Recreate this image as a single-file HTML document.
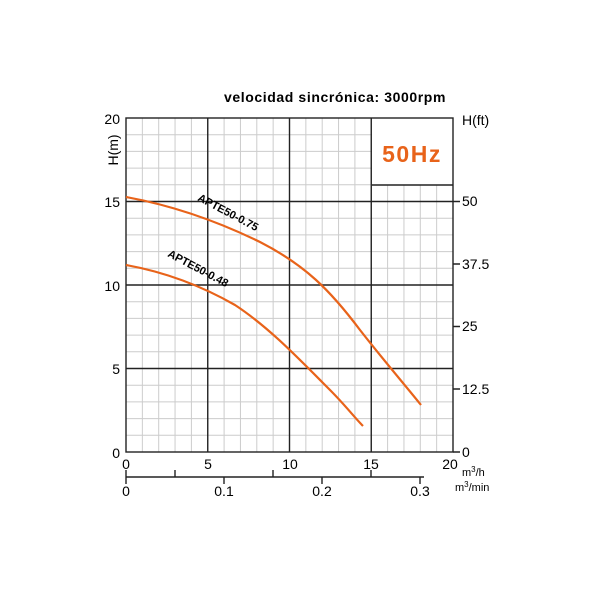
<!DOCTYPE html><html><head><style>body{margin:0;background:#fff}svg{display:block}</style></head><body>
<svg width="600" height="600" xmlns="http://www.w3.org/2000/svg" font-family="Liberation Sans, sans-serif">
<rect width="600" height="600" fill="#fff"/>
<g stroke="#ccc" stroke-width="1">
<path d="M142.35 118V452M158.7 118V452M175.05 118V452M191.4 118V452M224.1 118V452M240.45 118V452M256.8 118V452M273.15 118V452M305.85 118V452M322.2 118V452M338.55 118V452M354.9 118V452M387.6 185V452M403.95 185V452M420.3 185V452M436.65 185V452"/>
<path d="M126 134.7H372M126 151.4H372M126 168.1H372M126 184.8H372M126 218.2H453M126 234.9H453M126 251.6H453M126 268.3H453M126 301.7H453M126 318.4H453M126 335.1H453M126 351.8H453M126 385.2H453M126 401.9H453M126 418.6H453M126 435.3H453"/>
</g>
<g stroke="#222" stroke-width="1.4" fill="none">
<rect x="126" y="118" width="327" height="334"/>
<path d="M207.75 118V452M289.5 118V452M371.25 118V452M126 201.5H453M126 285H453M126 368.5H453M372 185H453"/>
<path d="M453 201.5H460M453 264H460M453 326.5H460M453 389H460M453 452H460"/>
<path d="M126 477H424M126 470V484M175 477V470M224 477V484M273 477V470M322 477V484M371 477V470M420 477V484"/>
</g>
<g fill="none" stroke="#e8631a" stroke-width="2.2">
<path d="M126 197 C170 205 215 220 260 242 C305 265 330 290 360 330 C385 362 405 385 421 405"/>
<path d="M126 265 C165 272 200 285 235 305 C270 328 300 360 330 390 C345 405 355 418 363 426"/>
</g>
<text x="335" y="102" font-size="14" font-weight="bold" text-anchor="middle" letter-spacing="0.6">velocidad sincrónica: 3000rpm</text>
<text x="412" y="162" font-size="23" font-weight="bold" fill="#e8631a" text-anchor="middle" letter-spacing="1.5">50Hz</text>
<g font-size="14" text-anchor="end"><text x="120" y="124">20</text><text x="120" y="207">15</text><text x="120" y="291">10</text><text x="120" y="374">5</text><text x="120" y="458">0</text></g>
<text transform="translate(118,150) rotate(-90)" font-size="14" text-anchor="middle">H(m)</text>
<text x="462" y="125" font-size="14">H(ft)</text>
<g font-size="14"><text x="462" y="206">50</text><text x="462" y="269">37.5</text><text x="462" y="331">25</text><text x="462" y="394">12.5</text><text x="462" y="457">0</text></g>
<g font-size="14" text-anchor="middle"><text x="126" y="469">0</text><text x="208" y="469">5</text><text x="290" y="469">10</text><text x="371" y="469">15</text><text x="450" y="469">20</text>
<text x="126" y="496">0</text><text x="224" y="496">0.1</text><text x="322" y="496">0.2</text><text x="420" y="496">0.3</text></g>
<text x="462" y="476" font-size="11">m<tspan dy="-4" font-size="8">3</tspan><tspan dy="4">/h</tspan></text>
<text x="455" y="491" font-size="11">m<tspan dy="-4" font-size="8">3</tspan><tspan dy="4">/min</tspan></text>
<text transform="translate(197,200) rotate(28)" font-size="11" font-weight="bold">APTE50-0.75</text>
<text transform="translate(167,256) rotate(28)" font-size="11" font-weight="bold">APTE50-0.48</text>
</svg></body></html>
